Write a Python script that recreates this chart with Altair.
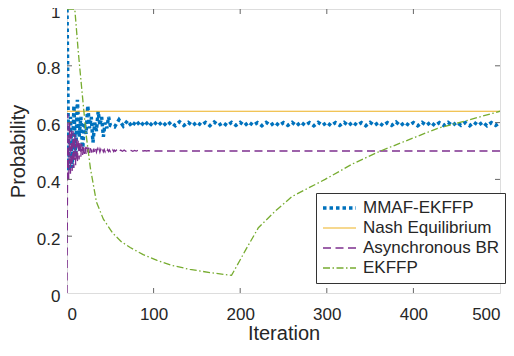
import altair as alt
import pandas as pd

SERIES = ["MMAF-EKFFP", "Nash Equilibrium", "Asynchronous BR", "EKFFP"]
COLORS = ["#0072BD", "#EDB120", "#7E2F8E", "#77AC30"]

# MMAF-EKFFP (every 2 iterations early, then every 5 iterations)
MMAF_ITER = list(range(0, 51, 2)) + list(range(55, 501, 5))
MMAF_P = [
    1.00, 0.43, 0.62, 0.44, 0.66, 0.48, 0.68, 0.55, 0.62, 0.50,
    0.60, 0.56, 0.66, 0.58, 0.62, 0.53, 0.60, 0.57, 0.64, 0.59,
    0.62, 0.55, 0.60, 0.58, 0.62, 0.59,
    0.585, 0.610, 0.588, 0.607, 0.586, 0.606, 0.588, 0.605, 0.587, 0.604,
    0.589, 0.603, 0.588, 0.602, 0.589, 0.603, 0.590, 0.601, 0.589, 0.602,
    0.590, 0.601, 0.589, 0.602, 0.590, 0.600, 0.589, 0.601, 0.590, 0.601,
    0.589, 0.602, 0.590, 0.600, 0.589, 0.601, 0.590, 0.601, 0.589, 0.600,
    0.590, 0.601, 0.589, 0.602, 0.590, 0.600, 0.589, 0.601, 0.590, 0.601,
    0.589, 0.600, 0.590, 0.601, 0.589, 0.602, 0.590, 0.600, 0.589, 0.601,
    0.590, 0.601, 0.589, 0.600, 0.590, 0.602, 0.589, 0.601, 0.590, 0.600,
    0.589, 0.601, 0.590, 0.602, 0.589, 0.600, 0.590, 0.601, 0.589, 0.601,
    0.590, 0.600, 0.589, 0.601, 0.590, 0.602, 0.589, 0.600, 0.590, 0.601,
]

NASH_ITER = [0, 500]
NASH_P = [0.64, 0.64]

ABR_ITER = list(range(0, 61)) + list(range(62, 101, 2)) + [500]
ABR_P = [
    0.00, 0.63, 0.40, 0.60, 0.42, 0.58, 0.43, 0.57, 0.44, 0.56,
    0.45, 0.55, 0.46, 0.54, 0.47, 0.535, 0.48, 0.525, 0.485, 0.52,
    0.49, 0.515, 0.49, 0.515, 0.492, 0.512, 0.493, 0.51, 0.494, 0.51,
    0.495, 0.508, 0.495, 0.508, 0.496, 0.507, 0.496, 0.507, 0.496, 0.506,
    0.497, 0.506, 0.497, 0.505, 0.497, 0.505, 0.498, 0.505, 0.498, 0.504,
    0.498, 0.504, 0.498, 0.504, 0.498, 0.503, 0.499, 0.503, 0.499, 0.503,
    0.499,
    0.503, 0.499, 0.503, 0.499, 0.502, 0.499, 0.502, 0.499, 0.502, 0.500,
    0.502, 0.500, 0.502, 0.500, 0.501, 0.500, 0.501, 0.500, 0.501, 0.500,
    0.500,
]

EK_ITER = [0, 9, 13, 17, 22, 27, 34, 42, 53, 63, 73, 88, 104, 120, 142, 165, 190,
           206, 221, 241, 260, 279, 298, 330, 362, 395, 428, 465, 500]
EK_P = [1.0, 1.0, 0.85, 0.72, 0.56, 0.44, 0.32, 0.26, 0.21, 0.18, 0.16, 0.135, 0.115,
        0.098, 0.083, 0.072, 0.062, 0.15, 0.23, 0.29, 0.34, 0.37, 0.40, 0.455,
        0.50, 0.54, 0.58, 0.61, 0.64]

X_TICKS = [0, 100, 200, 300, 400, 500]
Y_TICKS = [0, 0.2, 0.4, 0.6, 0.8, 1.0]

rows = []
for name, xs, ys in [(SERIES[0], MMAF_ITER, MMAF_P), (SERIES[1], NASH_ITER, NASH_P),
                     (SERIES[2], ABR_ITER, ABR_P), (SERIES[3], EK_ITER, EK_P)]:
    for i, (a, b) in enumerate(zip(xs, ys)):
        rows.append({"iter": a, "p": b, "series": name, "k": i})
df = pd.DataFrame(rows)

W, H = 433, 284
FONT = "Liberation Sans"
GRAY = "#666666"
TXT = "#262626"

xscale = alt.Scale(domain=[0, 500], nice=False, zero=False)
yscale = alt.Scale(domain=[0, 1], nice=False)

lines = alt.Chart(df).mark_line(clip=True, strokeCap="butt").encode(
    x=alt.X("iter:Q", scale=xscale, title="Iteration",
            axis=alt.Axis(values=X_TICKS, ticks=False, domain=False, grid=False,
                          labelFontSize=17, titleFontSize=20, labelPadding=13,
                          titlePadding=1, labelColor=TXT, titleColor=TXT,
                          titleFontWeight="normal", labelFont=FONT, titleFont=FONT)),
    y=alt.Y("p:Q", scale=yscale, title="Probability",
            axis=alt.Axis(values=Y_TICKS, format=".1~f", ticks=False, domain=False,
                          grid=False, labelFontSize=17, titleFontSize=20,
                          labelPadding=7, titlePadding=8, labelColor=TXT,
                          titleColor=TXT, titleFontWeight="normal", labelFont=FONT,
                          titleFont=FONT, labelOffset=3, labelFlush=False)),
    color=alt.Color("series:N", scale=alt.Scale(domain=SERIES, range=COLORS), title=None,
                    legend=alt.Legend(orient="none", legendX=249, legendY=184,
                                      symbolType="stroke", symbolSize=1089,
                                      labelFontSize=17, labelFont=FONT, labelColor=TXT,
                                      strokeColor="#333333", fillColor="white",
                                      padding=5, rowPadding=0, clipHeight=20,
                                      labelOffset=5, symbolOffset=0, labelLimit=300)),
    strokeDash=alt.StrokeDash("series:N", scale=alt.Scale(
        domain=SERIES, range=[[3.5, 3], [1, 0], [8, 4.5], [7, 2.5, 1.5, 2.5]]), title=None),
    strokeWidth=alt.StrokeWidth("series:N", scale=alt.Scale(
        type="ordinal", domain=SERIES, range=[3.5, 1.1, 1.3, 1.3]), title=None),
    order="k:Q",
)

xt = pd.DataFrame({"iter": X_TICKS[1:-1]})
yt = pd.DataFrame({"p": Y_TICKS[1:-1]})
tick_b = alt.Chart(xt).mark_rule(color=GRAY).encode(
    x=alt.X("iter:Q", scale=xscale), y=alt.value(H), y2=alt.value(H - 5))
tick_t = alt.Chart(xt).mark_rule(color=GRAY).encode(
    x=alt.X("iter:Q", scale=xscale), y=alt.value(0), y2=alt.value(5))
tick_l = alt.Chart(yt).mark_rule(color=GRAY).encode(
    y=alt.Y("p:Q", scale=yscale), x=alt.value(0), x2=alt.value(5))
tick_r = alt.Chart(yt).mark_rule(color=GRAY).encode(
    y=alt.Y("p:Q", scale=yscale), x=alt.value(W - 5), x2=alt.value(W))

chart = alt.layer(lines, tick_b, tick_t, tick_l, tick_r).properties(
    width=W, height=H,
    autosize=alt.AutoSizeParams(type="none"),
    padding={"left": 59, "top": 1, "right": 6, "bottom": 51},
).configure_view(stroke=GRAY, strokeWidth=1).configure(background="white")

chart.save("out.html", embed_options={"renderer": "svg", "actions": False})
